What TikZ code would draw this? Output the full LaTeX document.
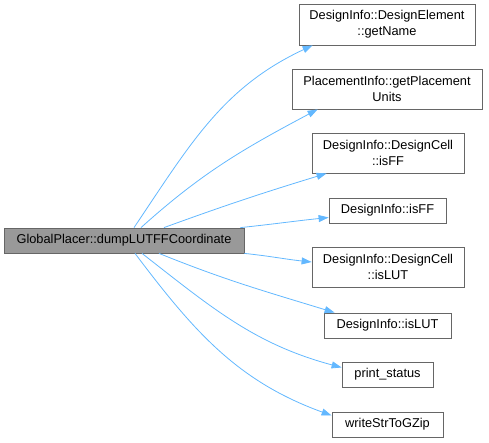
\documentclass[tikz,border=0pt]{standalone}
\usepackage{fontspec}
\setmainfont{Liberation Sans}
\usetikzlibrary{arrows.meta}
\definecolor{edgeblue}{HTML}{63B8FF}
\definecolor{boxline}{HTML}{666666}
\definecolor{mainfill}{HTML}{999999}
\begin{document}
\begin{tikzpicture}[x=1pt,y=1pt,
  box/.style={draw=boxline, line width=0.8pt, fill=white, inner sep=0pt, align=center,
    font=\fontsize{12.8}{16}\selectfont},
  mainbox/.style={box, fill=mainfill},
  call/.style={draw=edgeblue, line width=0.8pt, -{Triangle[length=10pt,width=7pt]}}
]
\useasboundingbox (0,0) rectangle (489,442);
\node[mainbox, minimum width=240pt, minimum height=25pt] (main) at (124,201.5) {GlobalPlacer::dumpLUTFFCoordinate};
\node[box, minimum width=176pt, minimum height=41pt] (n1) at (387,417.5) {DesignInfo::DesignElement\\::getName};
\node[box, minimum width=190pt, minimum height=40pt] (n2) at (387,353) {PlacementInfo::getPlacement\\Units};
\node[box, minimum width=152pt, minimum height=40pt] (n3) at (388,289) {DesignInfo::DesignCell\\::isFF};
\node[box, minimum width=117pt, minimum height=25pt] (n4) at (387.5,231.5) {DesignInfo::isFF};
\node[box, minimum width=152pt, minimum height=40pt] (n5) at (388,175) {DesignInfo::DesignCell\\::isLUT};
\node[box, minimum width=127pt, minimum height=25pt] (n6) at (387.5,116.5) {DesignInfo::isLUT};
\node[box, minimum width=91pt, minimum height=25pt] (n7) at (387.5,67.5) {print\_status};
\node[box, minimum width=111pt, minimum height=25pt] (n8) at (387.5,17.5) {writeStrToGZip};

\draw[call] ([xshift=10pt]main.north) to[out=56,in=205] ([xshift=14pt]n1.south west);
\draw[call] ([xshift=17pt]main.north) to[out=42,in=208] ([xshift=26pt]n2.south west);
\draw[call] ([xshift=40pt]main.north) to[out=20,in=197] ([xshift=15pt]n3.south west);
\draw[call] ([xshift=-4pt]main.north east) to[out=6,in=186] ([yshift=-7pt]n4.west);
\draw[call] (main.south east) to[out=-6,in=174] ([yshift=5pt]n5.west);
\draw[call] ([xshift=35pt]main.south) to[out=-22,in=163] ([xshift=11pt]n6.north west);
\draw[call] ([xshift=18pt]main.south) to[out=-38,in=165] ([yshift=7pt]n7.west);
\draw[call] ([xshift=11pt]main.south) to[out=-53,in=160] ([yshift=9pt]n8.west);
\end{tikzpicture}
\end{document}
